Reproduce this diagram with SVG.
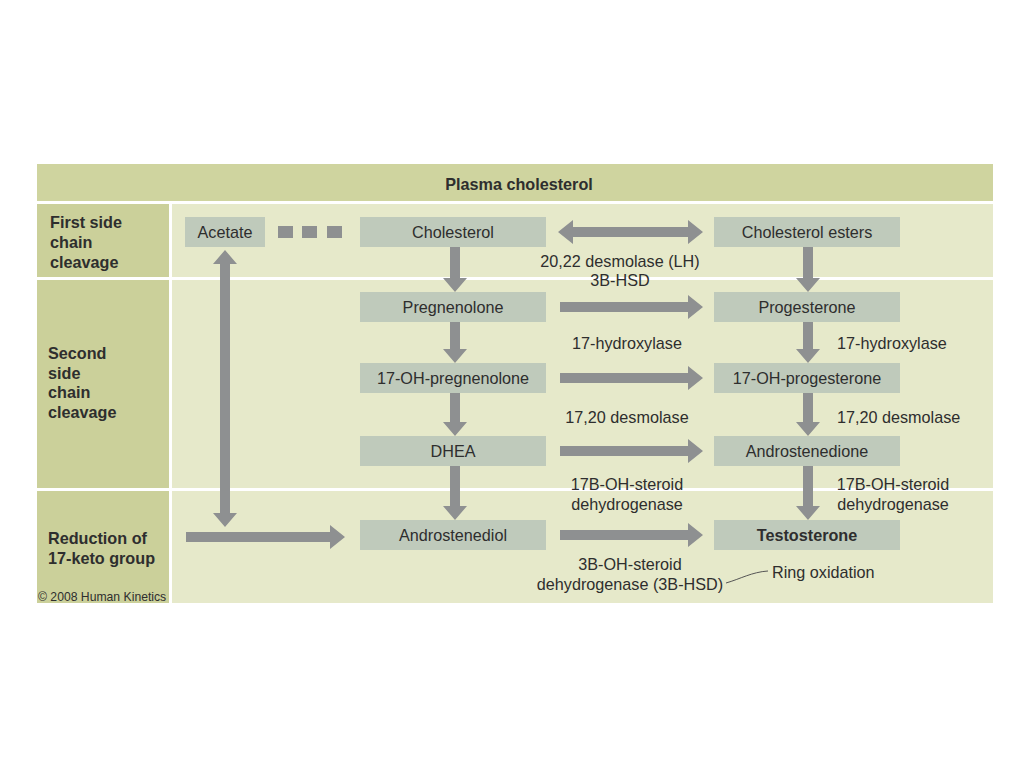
<svg xmlns="http://www.w3.org/2000/svg" width="1024" height="768" viewBox="0 0 1024 768">
<style>
.t{font-family:"Liberation Sans",Arial,sans-serif;font-size:16.2px;fill:#2e2e2e}
.c{text-anchor:middle}
.b{font-weight:bold}
.node{fill:#bfcabb}
.arr{fill:#8e9091}
</style>
<rect width="1024" height="768" fill="#ffffff"/>
<rect x="37" y="164" width="956" height="439" fill="#e6e9ca"/>
<rect x="37" y="164" width="956" height="37" fill="#cfd49f"/>
<rect x="37" y="201" width="132" height="402" fill="#cbd09a"/>
<g fill="#ffffff">
<rect x="37" y="201" width="956" height="3"/>
<rect x="37" y="277" width="956" height="3"/>
<rect x="37" y="488" width="956" height="3"/>
<rect x="169" y="201" width="3" height="402"/>
</g>
<text class="t c b" x="519" y="190">Plasma cholesterol</text>
<g class="t b">
<text x="50" y="228">First side</text>
<text x="50" y="248">chain</text>
<text x="50" y="268">cleavage</text>
<text x="48" y="359">Second</text>
<text x="48" y="379">side</text>
<text x="48" y="398">chain</text>
<text x="48" y="418">cleavage</text>
<text x="48" y="544">Reduction of</text>
<text x="48" y="564">17-keto group</text>
</g>
<text class="t" x="38" y="601" style="font-size:12.2px">© 2008 Human Kinetics</text>

<g id="acetate"><rect class="node" x="185" y="217" width="80" height="30"/><text class="t c" x="225" y="238">Acetate</text></g>
<g id="cholesterol"><rect class="node" x="360" y="217" width="186" height="30"/><text class="t c" x="453" y="238">Cholesterol</text></g>
<g id="cholesterol-esters"><rect class="node" x="714" y="217" width="186" height="30"/><text class="t c" x="807" y="238">Cholesterol esters</text></g>
<g id="pregnenolone"><rect class="node" x="360" y="292" width="186" height="30"/><text class="t c" x="453" y="313">Pregnenolone</text></g>
<g id="progesterone"><rect class="node" x="714" y="292" width="186" height="30"/><text class="t c" x="807" y="313">Progesterone</text></g>
<g id="oh-pregnenolone"><rect class="node" x="360" y="363" width="186" height="30"/><text class="t c" x="453" y="384">17-OH-pregnenolone</text></g>
<g id="oh-progesterone"><rect class="node" x="714" y="363" width="186" height="30"/><text class="t c" x="807" y="384">17-OH-progesterone</text></g>
<g id="dhea"><rect class="node" x="360" y="436" width="186" height="30"/><text class="t c" x="453" y="457">DHEA</text></g>
<g id="androstenedione"><rect class="node" x="714" y="436" width="186" height="30"/><text class="t c" x="807" y="457">Androstenedione</text></g>
<g id="androstenediol"><rect class="node" x="360" y="520" width="186" height="30"/><text class="t c" x="453" y="541">Androstenediol</text></g>
<g id="testosterone"><rect class="node" x="714" y="520" width="186" height="30"/><text class="t c b" x="807" y="541">Testosterone</text></g>

<g id="connectors" class="arr">
<rect x="278" y="226" width="15" height="12"/>
<rect x="302" y="226" width="15" height="12"/>
<rect x="327" y="226" width="15" height="12"/>
<polygon points="558,232 573,220 573,227 688,227 688,220 703,232 688,244 688,237 573,237 573,244"/>
<polygon points="450,247 460,247 460,278 467,278 455,292 443,278 450,278"/>
<polygon points="450,322 460,322 460,349 467,349 455,363 443,349 450,349"/>
<polygon points="450,393 460,393 460,422 467,422 455,436 443,422 450,422"/>
<polygon points="450,466 460,466 460,506 467,506 455,520 443,506 450,506"/>
<polygon points="803,247 813,247 813,278 820,278 808,292 796,278 803,278"/>
<polygon points="803,322 813,322 813,349 820,349 808,363 796,349 803,349"/>
<polygon points="803,393 813,393 813,422 820,422 808,436 796,422 803,422"/>
<polygon points="803,466 813,466 813,506 820,506 808,520 796,506 803,506"/>
<polygon points="560,302 688,302 688,295 703,307 688,319 688,312 560,312"/>
<polygon points="560,373 688,373 688,366 703,378 688,390 688,383 560,383"/>
<polygon points="560,446 688,446 688,439 703,451 688,463 688,456 560,456"/>
<polygon points="560,530 688,530 688,523 703,535 688,547 688,540 560,540"/>
<polygon points="225,250 237,264 230,264 230,513 237,513 225,527 213,513 220,513 220,264 213,264"/>
<polygon points="186,532 330,532 330,525 345,537 330,549 330,542 186,542"/>
<path d="M726,583 C740,579 752,572 768,571" fill="none" stroke="#555" stroke-width="1"/>
</g>

<g class="t">
<text class="c" x="620" y="267">20,22 desmolase (LH)</text>
<text class="c" x="620" y="286">3B-HSD</text>
<text class="c" x="627" y="349">17-hydroxylase</text>
<text class="c" x="627" y="423">17,20 desmolase</text>
<text class="c" x="627" y="490">17B-OH-steroid</text>
<text class="c" x="627" y="510">dehydrogenase</text>
<text x="837" y="349">17-hydroxylase</text>
<text x="837" y="423">17,20 desmolase</text>
<text class="c" x="893" y="490">17B-OH-steroid</text>
<text class="c" x="893" y="510">dehydrogenase</text>
<text class="c" x="630" y="570">3B-OH-steroid</text>
<text class="c" x="630" y="590">dehydrogenase (3B-HSD)</text>
<text x="772" y="578">Ring oxidation</text>
</g>
</svg>
